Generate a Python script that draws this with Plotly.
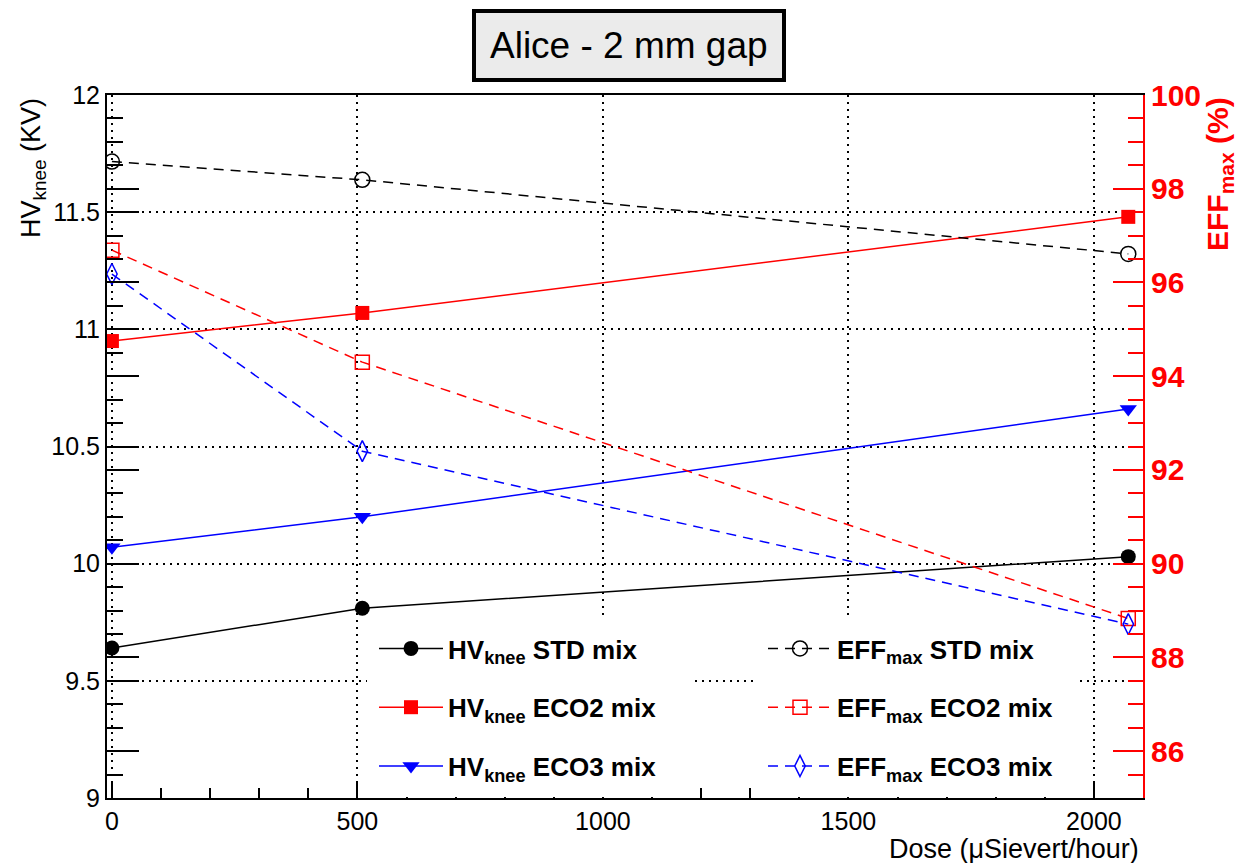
import plotly.graph_objects as go

# ---------------- data ----------------
dose = [0, 510, 2070]

hv_std = [9.64, 9.81, 10.03]
hv_eco2 = [10.95, 11.07, 11.48]
hv_eco3 = [10.07, 10.20, 10.66]

eff_std = [98.58, 98.19, 96.61]
eff_eco2 = [96.69, 94.30, 88.83]
eff_eco3 = [96.18, 92.40, 88.71]

hv_labels = ["<b>HV<sub>knee</sub> STD mix</b>",
             "<b>HV<sub>knee</sub> ECO2 mix</b>",
             "<b>HV<sub>knee</sub> ECO3 mix</b>"]
eff_labels = ["<b>EFF<sub>max</sub> STD mix</b>",
              "<b>EFF<sub>max</sub> ECO2 mix</b>",
              "<b>EFF<sub>max</sub> ECO3 mix</b>"]

FONT = "Liberation Sans, Arial, sans-serif"

# ---------------- layout geometry ----------------
W, H = 1241, 863
L, R, T, B = 107, 1143, 95, 798   # plot frame in pixels


def px_x(p):
    return (p - L) / (R - L)


def px_y(p):
    return (B - p) / (B - T)


fig = go.Figure()

hv_series = [hv_std, hv_eco2, hv_eco3]
hv_colors = ["black", "red", "blue"]
hv_symbols = ["circle", "square", "triangle-down"]
hv_sizes = [15, 14, 15]
for i in range(3):
    fig.add_trace(go.Scatter(
        x=dose, y=hv_series[i], mode="lines+markers", name=hv_labels[i],
        line=dict(color=hv_colors[i], width=1.5),
        marker=dict(symbol=hv_symbols[i], size=hv_sizes[i], color=hv_colors[i]),
        yaxis="y", legend="legend", legendgroup="hv%d" % i,
    ))

eff_series = [eff_std, eff_eco2, eff_eco3]
eff_symbols = ["circle-open", "square-open", "diamond-tall-open"]
eff_sizes = [15, 14, 15]
for i in range(3):
    fig.add_trace(go.Scatter(
        x=dose, y=eff_series[i], mode="lines+markers", name=eff_labels[i],
        line=dict(color=hv_colors[i], width=1.5, dash="10px,7px"),
        marker=dict(symbol=eff_symbols[i], size=eff_sizes[i], color=hv_colors[i],
                    line=dict(width=1.5, color=hv_colors[i])),
        yaxis="y2", legend="legend2", legendgroup="eff%d" % i,
    ))

# hidden trace that carries the secondary left tick axis
fig.add_trace(go.Scatter(x=[None], y=[None], yaxis="y3", showlegend=False,
                         hoverinfo="skip"))

grid = dict(showgrid=True, gridcolor="black", gridwidth=1.5, griddash="2px,5px")

fig.update_layout(
    width=W, height=H,
    margin=dict(l=L, r=W - R, t=T, b=H - B),
    paper_bgcolor="white", plot_bgcolor="white",
    font=dict(family=FONT, color="black"),
    xaxis=dict(
        range=[-10, 2100], tick0=0, dtick=500, zeroline=False,
        showline=True, linecolor="black", linewidth=2, mirror=True,
        ticks="inside", ticklen=17, tickwidth=1.5, tickcolor="black",
        minor=dict(dtick=100, ticklen=10, ticks="inside", tickwidth=1.5,
                   tickcolor="black", showgrid=False),
        tickfont=dict(size=25, family=FONT, color="black"),
        **grid,
    ),
    yaxis=dict(
        range=[9, 12], tick0=9, dtick=0.5, zeroline=False,
        showline=True, linecolor="black", linewidth=2,
        ticks="inside", ticklen=32, tickwidth=1.5, tickcolor="black",
        minor=dict(dtick=0.1, ticklen=16, ticks="inside", tickwidth=1.5,
                   tickcolor="black", showgrid=False),
        tickfont=dict(size=25, family=FONT, color="black"),
        **grid,
    ),
    yaxis2=dict(
        range=[85, 100], tick0=0, dtick=2, overlaying="y", side="right",
        anchor="x", zeroline=False, showgrid=False,
        showline=True, linecolor="red", linewidth=2,
        ticks="inside", ticklen=30, tickwidth=1.5, tickcolor="red",
        minor=dict(dtick=0.5, ticklen=15, ticks="inside", tickwidth=1.5,
                   tickcolor="red", showgrid=False),
        tickfont=dict(size=30, family=FONT, color="red", weight="bold"),
    ),
    yaxis3=dict(
        range=[85, 100], tick0=0, dtick=2, overlaying="y", side="left",
        anchor="x", zeroline=False, showgrid=False, showline=False,
        ticks="inside", ticklen=32, tickwidth=1.5, tickcolor="black",
        showticklabels=False,
    ),
    legend=dict(
        x=px_x(374), y=px_y(625), xanchor="left", yanchor="top",
        bgcolor="rgba(0,0,0,0)", borderwidth=0, tracegroupgap=22,
        itemwidth=64, font=dict(size=26, family=FONT, color="black"),
    ),
    legend2=dict(
        x=px_x(763), y=px_y(625), xanchor="left", yanchor="top",
        bgcolor="rgba(0,0,0,0)", borderwidth=0, tracegroupgap=22,
        itemwidth=64, font=dict(size=26, family=FONT, color="black"),
    ),
    shapes=[
        # legend boxes (white fill hides grid and ticks)
        dict(type="rect", xref="paper", yref="paper", layer="above",
             x0=px_x(367), x1=px_x(690), y0=px_y(797), y1=px_y(618),
             fillcolor="white", line=dict(width=0)),
        dict(type="rect", xref="paper", yref="paper", layer="above",
             x0=px_x(753), x1=px_x(1078), y0=px_y(797), y1=px_y(618),
             fillcolor="white", line=dict(width=0)),
        # title box
        dict(type="rect", xref="paper", yref="paper",
             x0=px_x(474), x1=px_x(784), y0=px_y(80), y1=px_y(11),
             fillcolor="#ebebeb", line=dict(color="black", width=4)),
    ],
    annotations=[
        dict(text="Alice - 2 mm gap", xref="paper", yref="paper",
             x=px_x(629), y=px_y(46), xanchor="center", yanchor="middle",
             showarrow=False, font=dict(size=37, family=FONT, color="black")),
        dict(text="HV<sub>knee</sub> (KV)", xref="paper", yref="paper",
             x=px_x(33), y=px_y(96), xanchor="center", yanchor="top",
             textangle=-90, showarrow=False,
             font=dict(size=27, family=FONT, color="black")),
        dict(text="<b>EFF<sub>max</sub> (%)</b>", xref="paper", yref="paper",
             x=px_x(1219), y=px_y(95), xanchor="center", yanchor="top",
             textangle=-90, showarrow=False,
             font=dict(size=30, family=FONT, color="red")),
        dict(text="Dose (\u03bcSievert/hour)", xref="paper", yref="paper",
             x=px_x(1141), y=px_y(849), xanchor="right", yanchor="middle",
             showarrow=False, font=dict(size=27, family=FONT, color="black")),
    ],
)

fig.write_html("out.html")
